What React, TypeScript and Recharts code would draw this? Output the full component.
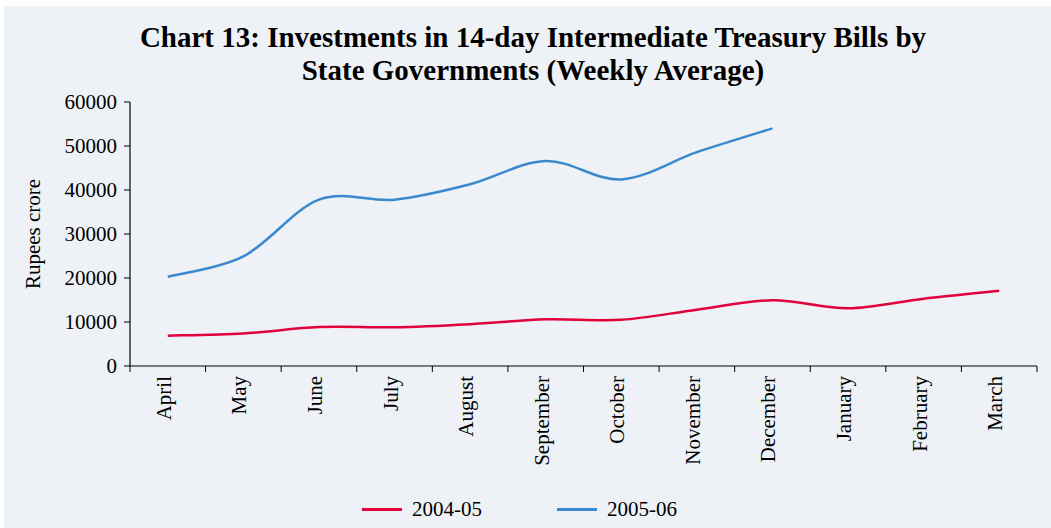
import { LineChart, Line, XAxis, YAxis } from "recharts";

const months = [
  "April", "May", "June", "July", "August", "September",
  "October", "November", "December", "January", "February", "March",
];
const fy2004 = [6900, 7400, 8850, 8800, 9500, 10600, 10500, 12800, 14950, 13100, 15300, 17100];
const fy2005 = [20300, 24900, 37800, 37800, 41300, 46600, 42400, 48600, 54000, null, null, null];
const yTicks = [0, 10000, 20000, 30000, 40000, 50000, 60000];

const data = months.map((m, i) => ({ month: m, a: fy2004[i], b: fy2005[i] }));

const W = 1051;
const H = 528;
const PLOT_LEFT = 130;
const PLOT_RIGHT = 1037;
const PLOT_TOP = 102;
const PLOT_BOTTOM = 366;
const BAND = (PLOT_RIGHT - PLOT_LEFT) / months.length;

const FONT = '"Times New Roman", "Liberation Serif", serif';
const RED = "#e2003b";
const BLUE = "#3a89cf";

// smoothed line like the spreadsheet one (Catmull-Rom through the points)
const smooth = (context: any) => {
  let pts: number[][] = [];
  return {
    areaStart() {},
    areaEnd() {},
    lineStart() {
      pts = [];
    },
    point(x: number, y: number) {
      pts.push([+x, +y]);
    },
    lineEnd() {
      if (!pts.length) return;
      context.moveTo(pts[0][0], pts[0][1]);
      for (let i = 0; i < pts.length - 1; i++) {
        const p0 = pts[Math.max(i - 1, 0)];
        const p1 = pts[i];
        const p2 = pts[i + 1];
        const p3 = pts[Math.min(i + 2, pts.length - 1)];
        context.bezierCurveTo(
          p1[0] + (p2[0] - p0[0]) / 6,
          p1[1] + (p2[1] - p0[1]) / 6,
          p2[0] - (p3[0] - p1[0]) / 6,
          p2[1] - (p3[1] - p1[1]) / 6,
          p2[0],
          p2[1]
        );
      }
    },
  };
};

const MonthTick = (props: any) => {
  const { x, payload, index } = props;
  const left = x - BAND / 2;
  return (
    <g>
      <line x1={left} x2={left} y1={PLOT_BOTTOM} y2={PLOT_BOTTOM + 6} stroke="#000" />
      {index === months.length - 1 && (
        <line x1={x + BAND / 2} x2={x + BAND / 2} y1={PLOT_BOTTOM} y2={PLOT_BOTTOM + 6} stroke="#000" />
      )}
      <text
        x={x + 3}
        y={PLOT_BOTTOM + 10}
        transform={`rotate(-90, ${x + 3}, ${PLOT_BOTTOM + 10})`}
        textAnchor="end"
        fontSize={21}
        fontFamily={FONT}
        fill="#000"
      >
        {payload.value}
      </text>
    </g>
  );
};

const App = () => {
  return (
    <div style={{ position: "absolute", left: 0, top: 0, width: W, height: H, background: "#fff" }}>
      <div
        style={{
          position: "absolute",
          left: 4,
          top: 6,
          width: W - 4,
          height: H - 6,
          background: "#eef2f6",
        }}
      />
      {/* title */}
      <div
        style={{
          position: "absolute",
          left: 33,
          top: 21,
          width: 1000,
          textAlign: "center",
          fontFamily: FONT,
          fontWeight: "bold",
          fontSize: 29,
          lineHeight: "33px",
          color: "#000",
        }}
      >
        <div>Chart 13: Investments in 14-day Intermediate Treasury Bills by</div>
        <div>State Governments (Weekly Average)</div>
      </div>

      <div style={{ position: "absolute", left: 0, top: 0 }}>
        <LineChart
          width={W}
          height={H}
          data={data}
          margin={{ top: PLOT_TOP, right: W - PLOT_RIGHT, left: PLOT_LEFT - 80, bottom: 0 }}
        >
          <XAxis
            dataKey="month"
            scale="band"
            interval={0}
            height={H - PLOT_BOTTOM}
            tickLine={false}
            axisLine={{ stroke: "#000", strokeWidth: 1.2 }}
            tick={<MonthTick />}
          />
          <YAxis
            width={80}
            domain={[0, 60000]}
            ticks={yTicks}
            interval={0}
            tickSize={6}
            tickMargin={7}
            axisLine={{ stroke: "#000", strokeWidth: 1.2 }}
            tickLine={{ stroke: "#000" }}
            tick={{ fill: "#000", fontSize: 21, fontFamily: FONT }}
            label={{
              value: "Rupees crore",
              angle: -90,
              position: "insideLeft",
              offset: -17,
              style: { fill: "#000", fontSize: 21, fontFamily: FONT, textAnchor: "middle" },
            }}
          />
          <Line
            type={smooth as any}
            dataKey="a"
            name="2004-05"
            stroke={RED}
            strokeWidth={2.5}
            dot={false}
            isAnimationActive={false}
          />
          <Line
            type={smooth as any}
            dataKey="b"
            name="2005-06"
            stroke={BLUE}
            strokeWidth={2.5}
            dot={false}
            connectNulls={false}
            isAnimationActive={false}
          />
        </LineChart>
      </div>

      {/* legend */}
      <div
        style={{
          position: "absolute",
          top: 497,
          left: 362,
          display: "flex",
          alignItems: "center",
          fontFamily: FONT,
          fontSize: 21,
          color: "#000",
        }}
      >
        <span style={{ display: "inline-block", width: 40, height: 3, background: RED }} />
        <span style={{ marginLeft: 10, marginRight: 75 }}>2004-05</span>
        <span style={{ display: "inline-block", width: 40, height: 3, background: BLUE }} />
        <span style={{ marginLeft: 10 }}>2005-06</span>
      </div>
    </div>
  );
};

export default App;
